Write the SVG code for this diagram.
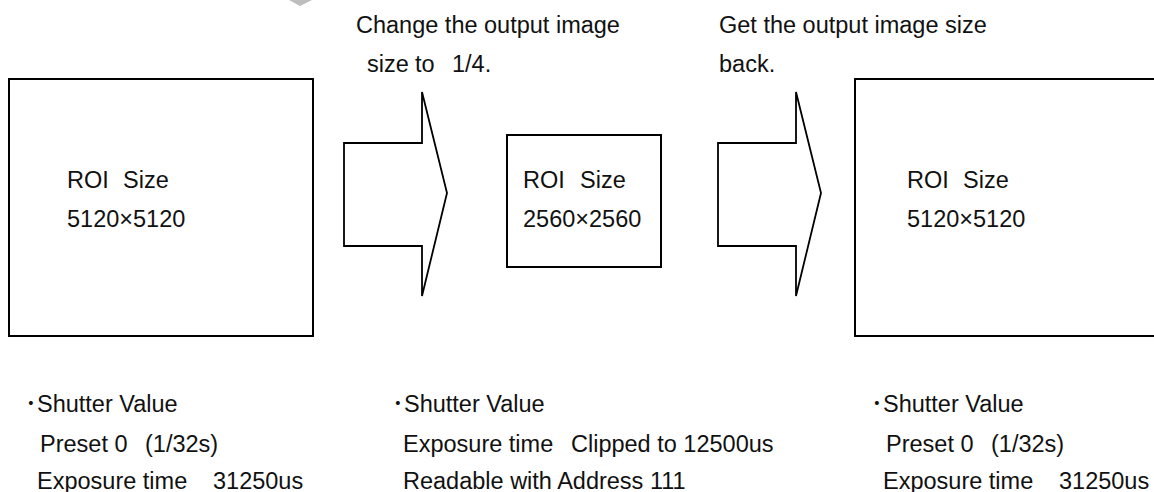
<svg xmlns="http://www.w3.org/2000/svg" width="1154" height="492" viewBox="0 0 1154 492">
<style>
text{font-family:"Liberation Sans","Noto Sans CJK JP",sans-serif;font-size:23.5px;fill:#111}
.box{fill:#fff;stroke:#000;stroke-width:2}
.arrow{fill:#fff;stroke:#000;stroke-width:1.8;stroke-linejoin:miter}
</style>
<rect width="1154" height="492" fill="#fff"/>
<polygon points="289,0 312,0 300,6" fill="#bdbdbd"/>
<g id="connectors">
<polygon class="arrow" points="344,143 422,143 422,92 447,193 422,296 422,246 344,246"/>
<polygon class="arrow" points="718,143 796,143 796,92 821,193 796,296 796,246 718,246"/>
</g>
<g id="label-change">
<text x="356" y="33">Change the output image</text>
<text y="72"><tspan x="367">size</tspan><tspan x="415">to</tspan><tspan x="452">1/4.</tspan></text>
</g>
<g id="label-back">
<text x="719" y="33">Get the output image size</text>
<text x="719" y="72">back.</text>
</g>
<g id="box-initial">
<rect class="box" x="9" y="79" width="304" height="257"/>
<text y="188"><tspan x="67">ROI</tspan><tspan x="123">Size</tspan></text>
<text x="67" y="227">5120×5120</text>
</g>
<g id="box-reduced">
<rect class="box" x="507" y="135" width="154" height="132"/>
<text y="188"><tspan x="523">ROI</tspan><tspan x="580">Size</tspan></text>
<text x="523" y="227">2560×2560</text>
</g>
<g id="box-restored">
<rect class="box" x="855" y="79" width="340" height="257"/>
<text y="188"><tspan x="907">ROI</tspan><tspan x="963">Size</tspan></text>
<text x="907" y="227">5120×5120</text>
</g>
<g id="shutter-initial">
<text y="412"><tspan x="25">･</tspan><tspan x="37">Shutter Value</tspan></text>
<text y="452"><tspan x="40">Preset 0</tspan><tspan x="145">(1/32s)</tspan></text>
<text y="489"><tspan x="37">Exposure time</tspan><tspan x="213">31250us</tspan></text>
</g>
<g id="shutter-reduced">
<text y="412"><tspan x="392">･</tspan><tspan x="404">Shutter Value</tspan></text>
<text y="452"><tspan x="403">Exposure time</tspan><tspan x="571">Clipped to 12500us</tspan></text>
<text x="403" y="489">Readable with Address 111</text>
</g>
<g id="shutter-restored">
<text y="412"><tspan x="871">･</tspan><tspan x="883">Shutter Value</tspan></text>
<text y="452"><tspan x="886">Preset 0</tspan><tspan x="991">(1/32s)</tspan></text>
<text y="489"><tspan x="883">Exposure time</tspan><tspan x="1059">31250us</tspan></text>
</g>
</svg>
